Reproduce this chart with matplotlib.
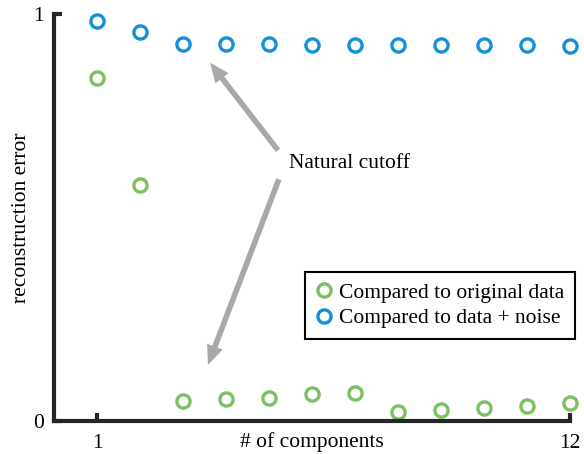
import matplotlib
matplotlib.use("Agg")
import matplotlib.pyplot as plt

components = list(range(1, 13))
err_original = [0.843, 0.580, 0.049, 0.053, 0.057, 0.066, 0.070, 0.021, 0.026, 0.032, 0.037, 0.044]
err_noise = [0.983, 0.956, 0.927, 0.926, 0.926, 0.925, 0.925, 0.924, 0.924, 0.924, 0.924, 0.922]

GREEN = "#7cc063"
BLUE = "#1590d8"
GRAY = "#a8a8a8"
DARK = "#262626"
FS = 15.5

plt.rcParams["font.family"] = ["Liberation Serif", "DejaVu Serif"]

fig = plt.figure(figsize=(5.84, 4.54), dpi=100)
ax = fig.add_axes([54 / 584, 33 / 454, 516 / 584, 407 / 454])

ax.plot(components, err_original, "o", ms=9.5, mfc="none", mec=GREEN, mew=2.4,
        label="Compared to original data", clip_on=False)
ax.plot(components, err_noise, "o", ms=9.5, mfc="none", mec=BLUE, mew=2.4,
        label="Compared to data + noise", clip_on=False)

ax.set_xlim(0, 12)
ax.set_ylim(0, 1)
ax.set_xticks([1, 12])
ax.set_yticks([0, 1])
for s in ["top", "right"]:
    ax.spines[s].set_visible(False)
for s in ["left", "bottom"]:
    ax.spines[s].set_linewidth(3)
    ax.spines[s].set_color(DARK)
    ax.spines[s].set_capstyle("projecting")
ax.tick_params(direction="in", length=6, width=3, color=DARK, labelsize=FS)
ax.tick_params(axis="x", pad=9)
ax.tick_params(axis="y", pad=7)

ax.set_xlabel("# of components", fontsize=FS, labelpad=-15)
ax.set_ylabel("reconstruction error", fontsize=FS, labelpad=2)

arrow = dict(facecolor=GRAY, edgecolor="none", width=4, headwidth=12, headlength=14, shrink=0)
ax.annotate("", xy=(3.63, 0.88), xytext=(5.21, 0.665), arrowprops=arrow)
ax.annotate("", xy=(3.58, 0.138), xytext=(5.23, 0.594), arrowprops=arrow)
ax.text(5.47, 0.633, "Natural cutoff", fontsize=FS, va="center", ha="left")

leg = ax.legend(loc="upper left", bbox_to_anchor=(0.486, 0.366), borderaxespad=0,
                fontsize=FS, handletextpad=0.3, handlelength=0.8, borderpad=0.5,
                labelspacing=0.25, fancybox=False, framealpha=1)
leg.get_frame().set_edgecolor("black")
leg.get_frame().set_linewidth(1.5)

fig.savefig("out.png", dpi=100)
